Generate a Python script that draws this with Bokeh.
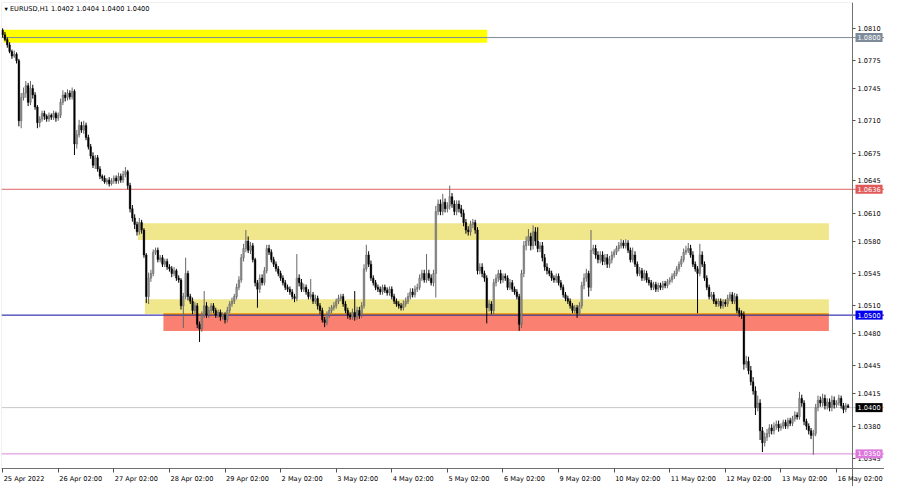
from bokeh.plotting import figure
from bokeh.models import (FixedTicker, Label, Span, BoxAnnotation, ColumnDataSource,
                          NumeralTickFormatter, Range1d)
from bokeh.embed import file_html
from bokeh.resources import INLINE

# ---------------- data ----------------
symbol = "EURUSD,H1"
last_ohlc = ["1.0402", "1.0404", "1.0400", "1.0400"]

day_labels = ["25 Apr 2022", "26 Apr 02:00", "27 Apr 02:00", "28 Apr 02:00", "29 Apr 02:00",
              "2 May 02:00", "3 May 02:00", "4 May 02:00", "5 May 02:00", "6 May 02:00",
              "9 May 02:00", "10 May 02:00", "11 May 02:00", "12 May 02:00", "13 May 02:00",
              "16 May 02:00"]
bars_per_day = 24

price_ticks = [1.0345, 1.0380, 1.0415, 1.0445, 1.0480, 1.0510, 1.0545, 1.0580,
               1.0610, 1.0645, 1.0675, 1.0710, 1.0745, 1.0775, 1.0810]

# hourly candles, prices in pips above 1.0000
first_open = 808
close_pips = [
    803, 798, 792, 785, 780, 782, 775, 710, 735, 740, 748, 730, 745, 738, 725, 708, 712, 718, 715, 712, 716, 714, 718, 713,
    716, 730, 738, 735, 740, 736, 742, 685, 695, 705, 700, 705, 692, 682, 672, 662, 670, 658, 650, 648, 644, 646, 642, 645,
    648, 645, 650, 646, 652, 655, 640, 615, 605, 598, 590, 600, 592, 565, 520, 540, 545, 568, 570, 560, 562, 555, 558, 552,
    550, 545, 548, 540, 538, 510, 520, 545, 520, 515, 505, 510, 490, 485, 500, 510, 500, 505, 510, 505, 500, 503, 498, 500,
    495, 505, 512, 515, 520, 530, 538, 562, 572, 580, 570, 575, 560, 535, 528, 540, 535, 548, 572, 568, 560, 555, 550, 545,
    540, 535, 530, 528, 525, 520, 518, 540, 535, 528, 530, 525, 520, 522, 515, 518, 510, 505, 495, 492, 500, 505, 508, 510,
    515, 518, 520, 512, 505, 500, 498, 503, 498, 505, 500, 510, 550, 565, 555, 540, 535, 530, 528, 525, 530, 527, 524, 528,
    520, 515, 512, 510, 508, 512, 515, 520, 525, 522, 528, 530, 540, 545, 538, 545, 540, 535, 545, 612, 620, 612, 622, 615,
    618, 628, 620, 612, 620, 615, 610, 600, 592, 590, 598, 600, 592, 548, 552, 545, 540, 508, 512, 505, 535, 540, 545, 538,
    542, 540, 530, 535, 528, 525, 520, 490, 545, 575, 580, 585, 575, 590, 580, 572, 575, 562, 552, 548, 545, 540, 538, 542,
    535, 530, 522, 518, 515, 510, 505, 508, 502, 510, 532, 540, 545, 530, 570, 572, 565, 560, 565, 558, 562, 555, 560, 565,
    568, 572, 575, 578, 575, 578, 570, 560, 565, 555, 545, 548, 540, 545, 538, 535, 530, 533, 528, 532, 530, 534, 532, 536,
    538, 542, 545, 550, 555, 560, 568, 570, 572, 565, 555, 550, 545, 565, 555, 540, 530, 520, 522, 515, 512, 515, 510, 514,
    512, 518, 522, 515, 520, 505, 502, 500, 447, 450, 440, 428, 418, 400, 405, 375, 362, 368, 372, 378, 375, 380, 382, 378,
    380, 384, 380, 386, 383, 388, 392, 390, 410, 405, 385, 380, 375, 370, 372, 400, 408, 405, 410, 402, 406, 400, 408, 403,
    405, 410, 402, 398, 402, 400,
]
wick_up = [
    2, 3, 2, 3, 2, 4, 2, 2, 5, 6, 5, 3, 8, 4, 3, 2, 3, 3, 3, 2, 3, 2, 3, 2,
    3, 4, 5, 3, 4, 3, 4, 2, 5, 6, 4, 5, 3, 3, 3, 4, 3, 3, 3, 2, 3, 2, 3, 3,
    3, 3, 4, 3, 4, 5, 2, 3, 4, 4, 3, 5, 3, 2, 2, 6, 4, 3, 3, 3, 3, 3, 3, 3,
    3, 3, 4, 2, 3, 2, 4, 17, 3, 3, 4, 4, 3, 3, 4, 16, 4, 4, 3, 3, 3, 3, 3, 3,
    3, 4, 3, 4, 3, 4, 4, 4, 5, 12, 5, 4, 3, 2, 3, 4, 4, 4, 4, 4, 3, 3, 3, 3,
    3, 3, 3, 3, 3, 3, 3, 26, 4, 4, 4, 3, 3, 17, 3, 4, 3, 3, 3, 3, 4, 4, 3, 4,
    3, 4, 3, 3, 3, 3, 3, 4, 23, 4, 4, 4, 5, 11, 4, 4, 3, 3, 3, 3, 3, 3, 3, 3,
    3, 3, 3, 3, 3, 4, 4, 4, 4, 4, 4, 4, 4, 4, 4, 21, 4, 4, 4, 6, 5, 5, 9, 4,
    4, 12, 4, 4, 4, 4, 4, 4, 4, 4, 4, 4, 3, 3, 4, 4, 3, 3, 4, 3, 4, 4, 4, 4,
    3, 3, 3, 4, 3, 3, 3, 3, 4, 5, 5, 8, 4, 7, 5, 15, 4, 4, 4, 4, 3, 3, 3, 3,
    3, 3, 3, 3, 3, 3, 3, 3, 3, 4, 4, 5, 5, 3, 22, 4, 4, 4, 4, 4, 4, 4, 4, 4,
    3, 3, 4, 4, 3, 4, 3, 3, 8, 4, 3, 4, 3, 4, 3, 3, 3, 3, 3, 3, 3, 3, 3, 3,
    3, 3, 3, 3, 3, 4, 4, 5, 6, 4, 4, 3, 3, 12, 4, 3, 3, 3, 3, 3, 3, 3, 3, 3,
    3, 4, 3, 3, 4, 3, 3, 3, 4, 6, 5, 5, 5, 5, 8, 4, 4, 5, 5, 4, 4, 4, 4, 4,
    3, 3, 3, 3, 3, 3, 4, 3, 7, 4, 3, 3, 3, 3, 4, 4, 5, 4, 5, 4, 4, 4, 5, 4,
    3, 4, 3, 3, 3, 2,
]
wick_dn = [
    3, 2, 3, 2, 3, 2, 3, 6, 8, 3, 5, 4, 3, 4, 3, 6, 5, 3, 4, 3, 3, 3, 3, 4,
    3, 3, 3, 4, 3, 3, 3, 12, 5, 3, 3, 4, 3, 3, 3, 3, 4, 3, 3, 3, 2, 3, 3, 2,
    3, 3, 3, 3, 3, 3, 4, 4, 4, 5, 4, 3, 4, 3, 7, 8, 4, 3, 3, 3, 3, 3, 3, 3,
    3, 4, 3, 3, 3, 4, 24, 3, 4, 3, 4, 3, 4, 14, 3, 3, 3, 3, 3, 3, 3, 3, 4, 3,
    4, 3, 3, 3, 3, 3, 3, 3, 4, 4, 3, 4, 3, 4, 20, 4, 3, 3, 3, 3, 3, 3, 3, 3,
    3, 3, 3, 3, 3, 3, 4, 3, 4, 3, 3, 3, 3, 3, 3, 3, 4, 4, 3, 5, 3, 3, 3, 3,
    3, 3, 3, 3, 3, 4, 3, 3, 4, 3, 4, 3, 3, 3, 3, 3, 3, 3, 3, 3, 3, 3, 3, 3,
    3, 3, 3, 3, 3, 3, 3, 3, 3, 3, 3, 3, 3, 3, 3, 3, 3, 3, 4, 26, 4, 4, 4, 4,
    4, 4, 4, 4, 4, 4, 4, 4, 4, 4, 4, 4, 4, 4, 4, 4, 4, 17, 4, 4, 4, 4, 4, 4,
    3, 3, 3, 3, 3, 3, 3, 7, 4, 4, 5, 5, 5, 4, 5, 4, 4, 4, 4, 4, 3, 3, 3, 3,
    3, 3, 3, 3, 3, 3, 3, 3, 5, 3, 3, 4, 4, 10, 4, 4, 4, 4, 4, 4, 4, 4, 4, 4,
    3, 3, 3, 3, 3, 3, 3, 3, 3, 3, 3, 3, 3, 3, 3, 3, 3, 3, 3, 3, 3, 3, 3, 3,
    3, 3, 3, 3, 3, 3, 3, 3, 3, 3, 3, 3, 43, 3, 3, 3, 3, 3, 3, 3, 3, 3, 3, 3,
    3, 3, 3, 3, 3, 3, 4, 4, 6, 4, 4, 4, 4, 8, 4, 10, 10, 4, 4, 4, 4, 4, 4, 4,
    3, 3, 3, 3, 3, 3, 3, 3, 3, 4, 4, 4, 4, 4, 21, 3, 4, 4, 4, 4, 4, 4, 4, 4,
    3, 3, 3, 4, 3, 0,
]

# drawn zones (bar index range, price range)
zone_left = [0.4, 58.4, 61.4, 69.4, 69.4]
zone_right = [209.2, 356.7, 356.7, 356.7, 356.7]
zone_top = [1.08084, 1.05992, 1.05172, 1.04995, 1.05022]
zone_bottom = [1.07944, 1.05813, 1.05013, 1.04828, 1.04995]
zone_colors = ["#ffff00", "#f0e68c", "#f0e68c", "#fa8072", "#f5a21b"]

# horizontal levels
levels = [1.0800, 1.0636, 1.0500, 1.0400, 1.0350]
level_line_colors = ["#7d8a99", "#e06464", "#0a0aa0", "#c8c8c8", "#d88ad8"]
level_tag_colors = ["#7d8a99", "#e05858", "#0000f0", "#000000", "#dc78dc"]

# ---------------- layout ----------------
W, H = 884, 486
BORDER_L, BORDER_T = 1, 2
FRAME_W, FRAME_H = W - BORDER_L, H - BORDER_T
CHART_W, CHART_H = FRAME_W - 32, FRAME_H - 18     # chart area; the rest holds the axis texts

x_start, chart_x_end = -0.5, 366.9
y_chart_bottom, y_end = 1.03342, 1.08379
x_end = x_start + (chart_x_end - x_start) * FRAME_W / CHART_W
y_start = y_end - (y_end - y_chart_bottom) * FRAME_H / CHART_H

# ---------------- build ----------------
pip = 0.0001
n = len(close_pips)
opens = [first_open] + close_pips[:-1]
xs, o, c, h, l = [], [], [], [], []
for i in range(n):
    op, cp = opens[i], close_pips[i]
    xs.append(i)
    o.append(1 + op * pip)
    c.append(1 + cp * pip)
    h.append(1 + (max(op, cp) + wick_up[i]) * pip)
    l.append(1 + (min(op, cp) - wick_dn[i]) * pip)

up = [c[i] >= o[i] for i in range(n)]
src = ColumnDataSource(dict(
    x=xs, open=o, close=c, high=h, low=l,
    top=[max(o[i], c[i]) for i in range(n)],
    bottom=[min(o[i], c[i]) for i in range(n)],
    body=["#8e8e8e" if u else "#000000" for u in up],
    edge=["#5a5a5a" if u else "#000000" for u in up],
    wick=["#666666" if u else "#000000" for u in up],
))

p = figure(width=W, height=H, x_range=Range1d(x_start, x_end), y_range=Range1d(y_start, y_end),
           y_axis_location="right", output_backend="svg", toolbar_location=None,
           min_border_left=BORDER_L, min_border_top=BORDER_T, min_border_right=0, min_border_bottom=0,
           background_fill_color="white", border_fill_color="white")
p.grid.visible = False
p.outline_line_color = None

FONT = "DejaVu Sans"
FS = "6.6px"

# chart border (top/left)
p.add_layout(BoxAnnotation(left=x_start, right=chart_x_end, top=y_end, bottom=y_chart_bottom,
                           fill_color=None, line_color="#9a9a9a", line_width=1, level="underlay"))
# zones
for zl, zr, zt, zb, zc in zip(zone_left, zone_right, zone_top, zone_bottom, zone_colors):
    p.add_layout(BoxAnnotation(left=zl, right=zr, top=zt, bottom=zb, fill_color=zc, fill_alpha=1.0,
                               line_color=None, level="underlay"))
# level lines
for lv, lc in zip(levels, level_line_colors):
    p.add_layout(Span(location=lv, dimension="width", line_color=lc, line_width=1, level="underlay"))

# candles
p.segment(x0="x", y0="high", x1="x", y1="low", line_color="wick", line_width=1, source=src)
p.vbar(x="x", width=0.72, top="top", bottom="bottom", fill_color="body", line_color="edge",
       line_width=0.4, source=src)

# y axis (right edge of the chart area)
ya = p.yaxis[0]
ya.fixed_location = chart_x_end
ya.ticker = FixedTicker(ticks=price_ticks, minor_ticks=[])
ya.formatter = NumeralTickFormatter(format="0.0000")
ya.axis_line_color = "#707070"
ya.major_tick_line_color = "#505050"
ya.major_tick_in = 0
ya.major_tick_out = 3
ya.minor_tick_line_color = None
ya.major_label_standoff = 2
ya.major_label_text_font = FONT
ya.major_label_text_font_size = FS
ya.major_label_text_color = "#000000"

# x axis (bottom edge of the chart area): tick marks at day starts, labels left-aligned after them
tick_bars = [i * bars_per_day for i in range(len(day_labels))]
xa = p.xaxis[0]
xa.fixed_location = y_chart_bottom
xa.ticker = FixedTicker(ticks=tick_bars, minor_ticks=[])
xa.major_label_overrides = {t: "" for t in tick_bars}
xa.axis_line_color = "#707070"
xa.major_tick_line_color = "#505050"
xa.major_tick_in = 0
xa.major_tick_out = 4
xa.minor_tick_line_color = None
xa.major_label_text_font_size = FS

for tb, txt in zip(tick_bars, day_labels):
    p.add_layout(Label(x=tb, y=y_chart_bottom, x_offset=1, y_offset=-6, text=txt, text_align="left",
                       text_baseline="top", text_font=FONT, text_font_size=FS, text_color="#000000"))

# header
p.add_layout(Label(x=x_start, y=y_end, x_offset=3, y_offset=-2,
                   text="\u25be " + symbol + "  " + " ".join(last_ohlc),
                   text_align="left", text_baseline="top", text_font=FONT, text_font_size=FS,
                   text_color="#000000"))

# price tags on the axis
for lv, tc in zip(levels, level_tag_colors):
    p.add_layout(Label(x=chart_x_end, y=lv, x_offset=3, text="%.4f" % lv, text_align="left",
                       text_baseline="middle", text_font=FONT, text_font_size=FS,
                       text_color="#ffffff", background_fill_color=tc, padding=2))

open("out.html", "w").write(file_html(p, INLINE))
